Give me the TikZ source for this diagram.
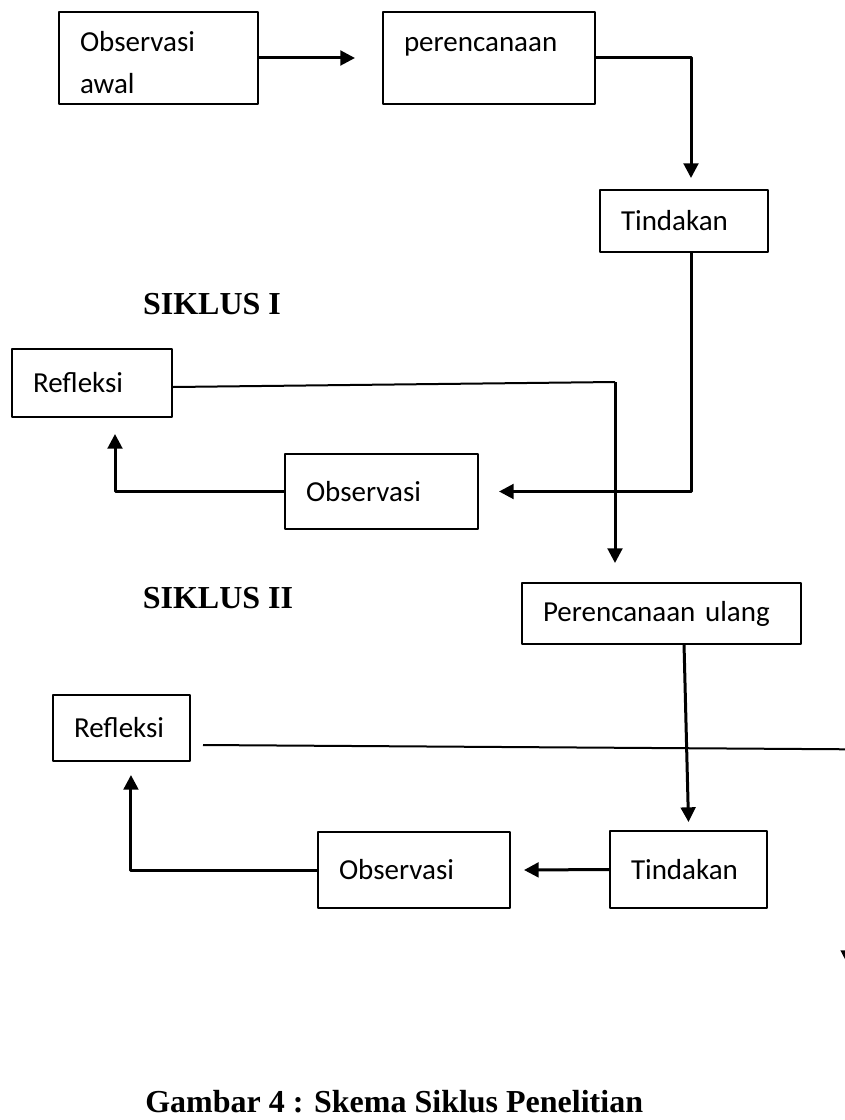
\documentclass[tikz,border=0pt]{standalone}
\usepackage{fontspec}
\setmainfont{Carlito}
\newfontfamily\judulfont{Liberation Serif}
\usetikzlibrary{arrows.meta}
\begin{document}
\begin{tikzpicture}[x=0.75pt, y=-0.75pt, line join=round, >={Triangle[length=11pt,width=11pt]},
		kotak/.style={draw, line width=1.5pt, rectangle, anchor=north west, align=left, inner xsep=15.75pt, inner ysep=0pt, font=\fontsize{21.75pt}{31.5pt}\selectfont},
		garis/.style={line width=1.5pt},
		panah/.style={->, line width=2.25pt},
		judul/.style={font=\judulfont\bfseries\fontsize{24pt}{28pt}\selectfont}]
	\useasboundingbox (0,0) rectangle (845,1120);
	\clip (0,0) rectangle (845,1120);
	% Siklus I
	\node[kotak, text width=117.75pt, minimum height=69pt] (obsawal) at (58,11) {Observasi\strut\\awal};
	\node[kotak, text width=127.5pt, minimum height=69pt] (plan) at (382,11) {perencanaan\strut\\~};
	\node[kotak, text width=94.5pt, minimum height=46.5pt] (act1) at (599,189) {Tindakan};
	\node[kotak, text width=88.5pt, minimum height=51pt] (refl1) at (11,348) {Refleksi};
	\node[kotak, text width=113.25pt, minimum height=56.25pt] (obs1) at (284,453) {Observasi};
	\node[judul] (sik1) at (212,304) {SIKLUS I};
	% Siklus II
	\node[kotak, text width=177.75pt, minimum height=45.75pt] (replan) at (521,582) {Perencanaan ulang};
	\node[kotak, text width=71.25pt, minimum height=49.5pt] (refl2) at (52,694) {Refleksi};
	\node[kotak, text width=86.25pt, minimum height=57.75pt] (act2) at (609,830) {Tindakan};
	\node[kotak, text width=112.5pt, minimum height=57pt] (obs2) at (317,831) {Observasi};
	\node[judul] (sik2) at (218,598) {SIKLUS II};
	\node[judul, anchor=base west, inner sep=0pt] (gambar) at (145,1112) {Gambar 4 : Skema Siklus Penelitian};
	\coordinate (sudut1) at (615,382);
	\coordinate (kanan) at (848,749.3);
	\coordinate (kanan2) at (848,965);
	% panah
	\draw[panah] (obsawal.east) -- ([xshift=-20.25pt]plan.west);
	\draw[panah] (plan.east) -| ([xshift=5.25pt, yshift=8.25pt]act1.north);
	\draw[panah] ([xshift=5.25pt]act1.south) |- ([xshift=15pt]obs1.east);
	\draw[garis] ([yshift=-3pt]refl1.east) -- (sudut1);
	\draw[panah] (sudut1) -- ([yshift=14.25pt]sudut1 |- replan.north);
	\draw[panah] (obs1.west) -| ([xshift=17.25pt, yshift=-12pt]refl1.south);
	\draw[panah] ([xshift=16.9pt]replan.south) -- ([yshift=6pt]act2.north);
	\draw[garis, ->] ([xshift=9pt, yshift=-12.75pt]refl2.east) -- (kanan) -- (kanan2);
	\draw[panah] (act2.west) -- ([xshift=9.75pt]obs2.east);
	\draw[panah] (obs2.west) -| ([xshift=7.1pt, yshift=-9.75pt]refl2.south);
\end{tikzpicture}
\end{document}
